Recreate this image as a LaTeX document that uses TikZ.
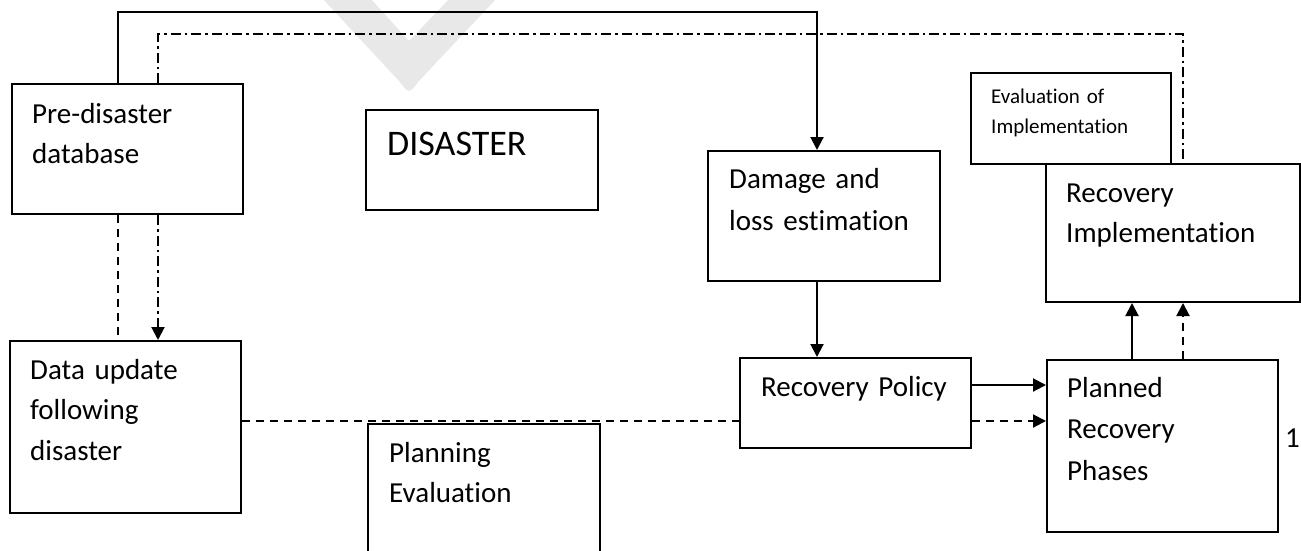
\documentclass[tikz,border=0pt]{standalone}
\usepackage{fontspec}
\setmainfont{Carlito}[Ligatures=CommonOff, WordSpace=0.75]
\usepackage{tikz}
\usetikzlibrary{arrows.meta,positioning}
\usepackage{xcolor}
\definecolor{wmgrey}{RGB}{232,232,232}
\tikzstyle{box} = [rectangle, draw=black, line width=2pt, anchor=north west, inner sep=0pt]
\tikzstyle{boxtext} = [anchor=base west, inner sep=0pt, align=left, text width=260pt]
\tikzstyle{arrow} = [line width=2pt, -{Triangle[width=13pt,length=13pt]}]
\tikzstyle{dashline} = [line width=2pt, dash pattern=on 8pt off 6pt]
\tikzstyle{dotline} = [line width=2pt, dash pattern=on 10pt off 4pt on 2.5pt off 4pt]
\newcommand{\bigtxt}{\fontsize{29}{40.5}\selectfont}

\begin{document}
\begin{tikzpicture}[x=1pt, y=-1pt]
\useasboundingbox (0,0) rectangle (1301,550);
\clip (0,0) rectangle (1301,550);

% Watermark
\fill[wmgrey] (322,-2) -- (399,81) .. controls (409,94) .. (419,81) -- (497,-2) -- (450,-2) -- (409,41) -- (370,-2) -- cycle;

% Boxes
\node[box, minimum width=231, minimum height=130] (pre) at (11,83) {};
\node[box, minimum width=232, minimum height=100] (disaster) at (365,109) {};
\node[box, minimum width=231, minimum height=172] (data) at (9,340) {};
\node[box, minimum width=232, minimum height=160] (planeval) at (367,423) {};
\node[box, minimum width=232, minimum height=130] (damage) at (707,150) {};
\node[box, minimum width=200, minimum height=91] (evalimpl) at (970,72) {};
\node[box, minimum width=254, minimum height=138] (recimpl) at (1045,163) {};
\node[box, minimum width=231, minimum height=90] (policy) at (739,357) {};
\node[box, minimum width=231, minimum height=172] (planned) at (1046,359) {};

% Texts
\node[boxtext, font=\bigtxt] (pretext) at (32,123) {Pre-disaster\\database};
\node[boxtext, font=\fontsize{36}{40}\selectfont] (distext) at (387,155) {DISASTER};
\node[boxtext, font=\bigtxt] (datatext) at (30,379) {Data update\\following\\disaster};
\node[boxtext, font=\bigtxt] (planevaltext) at (389,462) {Planning\\Evaluation};
\node[boxtext, font=\fontsize{29}{42}\selectfont] (damagetext) at (729,188) {Damage and\\loss estimation};
\node[boxtext, font=\fontsize{21}{30}\selectfont] (evaltext) at (991,103) {Evaluation of\\Implementation};
\node[boxtext, font=\fontsize{29}{40}\selectfont] (recimpltext) at (1066,202) {Recovery\\Implementation};
\node[boxtext, font=\bigtxt] (policytext) at (761,396) {Recovery Policy};
\node[boxtext, font=\fontsize{29}{41.5}\selectfont] (plannedtext) at (1067,397) {Planned\\Recovery\\Phases};
\node[boxtext, font=\bigtxt] (pagenum) at (1285,447) {1};

% Routing columns and rows
\coordinate (colA) at (118,0);
\coordinate (colB) at (158,0);
\coordinate (colE) at (817,0);
\coordinate (colC) at (1132,0);
\coordinate (colD) at (1183,0);
\coordinate (rowA) at (0,12);
\coordinate (rowB) at (0,34);
\coordinate (rowC) at (0,385);
\coordinate (rowD) at (0,421);

% Feedback lines over the top
\draw[arrow] (pre.north -| colA) |- (rowA -| colE) -- (damage.north -| colE);
\draw[dotline] (pre.north -| colB) |- (rowB -| colD) -- (recimpl.north -| colD);

% Database to data update
\draw[dashline] (pre.south -| colA) -- (data.north -| colA);
\draw[arrow, dotline] (pre.south -| colB) -- (data.north -| colB);

% Main flow
\draw[dashline] (data.east |- rowD) -- (policy.west |- rowD);
\draw[arrow] (damage.south -| colE) -- (policy.north -| colE);
\draw[arrow] (policy.east |- rowC) -- (planned.west |- rowC);
\draw[arrow, dashline] (policy.east |- rowD) -- (planned.west |- rowD);
\draw[arrow] (planned.north -| colC) -- (recimpl.south -| colC);
\draw[arrow, dashline] (planned.north -| colD) -- (recimpl.south -| colD);
\end{tikzpicture}
\end{document}
